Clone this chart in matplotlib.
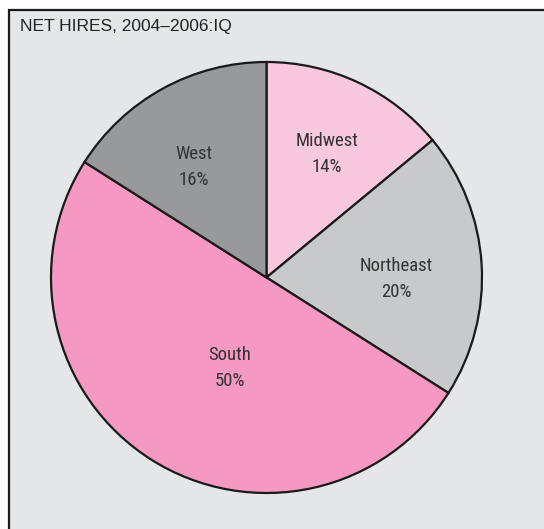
import matplotlib
matplotlib.use("Agg")
import matplotlib.pyplot as plt
from matplotlib.patches import Rectangle

title = "NET HIRES, 2004–2006:IQ"
regions = ["Midwest", "Northeast", "South", "West"]
shares = [14, 20, 50, 16]
colors = ["#f8c8df", "#c8c9cb", "#f599c2", "#98999b"]
# label anchor positions (in units of pie radius, relative to centre)
label_pos = [(0.281, 0.573), (0.601, -0.007), (-0.169, -0.42), (-0.336, 0.513)]

W, H = 544, 529
fig = plt.figure(figsize=(W / 100, H / 100), dpi=100)
fig.patch.set_facecolor("white")

# gray panel with top/left border
panel = Rectangle((9 / W, -0.05), 1.2, 1 - 10 / H + 0.05, transform=fig.transFigure,
                  facecolor="#e5e6e8", edgecolor="#1a1a1a", linewidth=1.6, zorder=-10)
fig.patches.append(panel)

fig.text(20 / W, 1 - 26 / H, title, ha="left", va="center", fontsize=12.5,
         family=["Liberation Sans", "DejaVu Sans"], color="#222222")

cx, cy, R = 266.5, H - 277.5, 215.5
ax = fig.add_axes([(cx - R) / W, (cy - R) / H, 2 * R / W, 2 * R / H])
ax.set_zorder(5)
ax.set_facecolor("none")
wedges, _ = ax.pie(shares, colors=colors, startangle=90, counterclock=False,
                   radius=1.0, wedgeprops=dict(edgecolor="#1a1a1a", linewidth=1.6))
ax.set_xlim(-1.0, 1.0)
ax.set_ylim(-1.0, 1.0)
ax.set_aspect("equal")
ax.axis("off")
for w in wedges:
    w.set_clip_on(False)

for name, val, (lx, ly) in zip(regions, shares, label_pos):
    ax.text(lx, ly, f"{name}\n{val}%", ha="center", va="center", fontsize=13.5,
            linespacing=1.6, color="#333333",
            family=["Roboto Condensed", "Archivo Narrow", "DejaVu Sans"])

fig.savefig("out.png", dpi=100, facecolor=fig.get_facecolor())
